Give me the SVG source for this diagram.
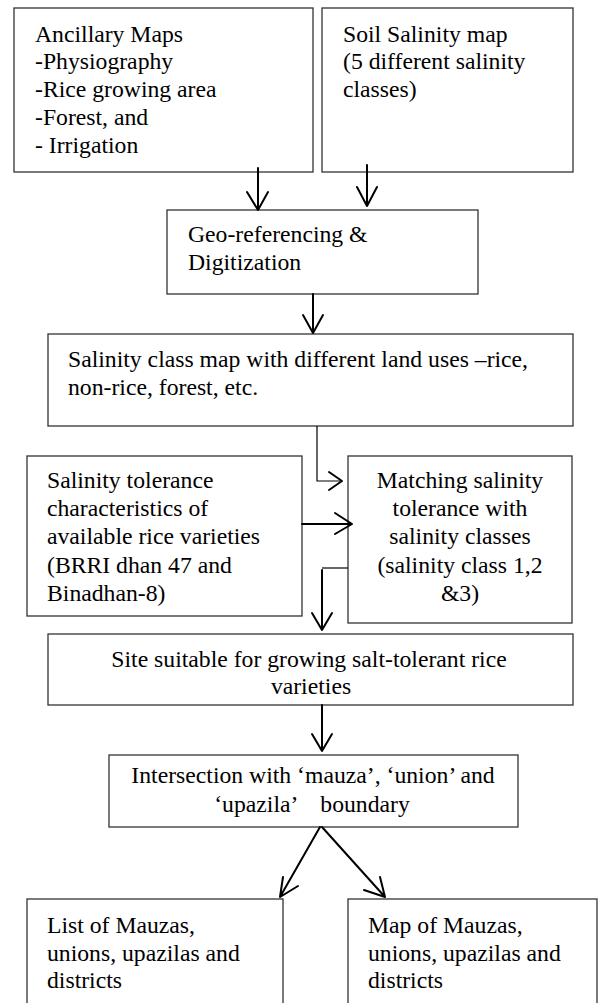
<svg xmlns="http://www.w3.org/2000/svg" width="598" height="1003" viewBox="0 0 598 1003">
<style>
.box{fill:#fff;stroke:#333;stroke-width:1.3}
.t{font-family:"Liberation Serif","Times New Roman",serif;font-size:23.7px;fill:#000}
.c{text-anchor:middle}
.ln{fill:none;stroke:#000;stroke-width:2;stroke-linecap:round;stroke-linejoin:round}
.thin{fill:none;stroke:#000;stroke-width:1.2}
</style>
<rect width="598" height="1003" fill="#fff"/>
<g id="ancillary">
<rect class="box" x="14" y="8" width="299" height="164"/>
<text class="t" x="35" y="42">Ancillary Maps</text>
<text class="t" x="35" y="69">-Physiography</text>
<text class="t" x="35" y="97">-Rice growing area</text>
<text class="t" x="35" y="125">-Forest, and</text>
<text class="t" x="35" y="153">- Irrigation</text>
</g>
<g id="soil">
<rect class="box" x="322" y="8" width="251" height="164"/>
<text class="t" x="343" y="42">Soil Salinity map</text>
<text class="t" x="343" y="69">(5 different salinity</text>
<text class="t" x="343" y="97">classes)</text>
</g>
<g id="geo">
<rect class="box" x="167" y="210" width="311" height="84"/>
<text class="t" x="188" y="242">Geo-referencing &amp;</text>
<text class="t" x="188" y="270">Digitization</text>
</g>
<g id="classmap">
<rect class="box" x="48" y="334" width="525" height="92"/>
<text class="t" x="68" y="367">Salinity class map with different land uses –rice,</text>
<text class="t" x="68" y="395">non-rice, forest, etc.</text>
</g>
<g id="tolerance">
<rect class="box" x="27" y="456" width="275" height="160"/>
<text class="t" x="47" y="488">Salinity tolerance</text>
<text class="t" x="47" y="516">characteristics of</text>
<text class="t" x="47" y="544">available rice varieties</text>
<text class="t" x="47" y="573">(BRRI dhan 47 and</text>
<text class="t" x="47" y="601">Binadhan-8)</text>
</g>
<g id="matching">
<rect class="box" x="348" y="456" width="224" height="167"/>
<text class="t c" x="460" y="488">Matching salinity</text>
<text class="t c" x="460" y="516">tolerance with</text>
<text class="t c" x="460" y="544">salinity classes</text>
<text class="t c" x="460" y="573">(salinity class 1,2</text>
<text class="t c" x="460" y="601">&amp;3)</text>
</g>
<g id="site">
<rect class="box" x="48" y="634" width="525" height="71"/>
<text class="t c" x="309" y="667">Site suitable for growing salt-tolerant rice</text>
<text class="t c" x="311" y="694">varieties</text>
</g>
<g id="intersection">
<rect class="box" x="109" y="755" width="409" height="72"/>
<text class="t c" x="313" y="783">Intersection with ‘mauza’, ‘union’ and</text>
<text class="t c" x="312" y="812" xml:space="preserve">‘upazila’    boundary</text>
</g>
<g id="list">
<rect class="box" x="27" y="899" width="256" height="120"/>
<text class="t" x="47" y="933">List of Mauzas,</text>
<text class="t" x="47" y="961">unions, upazilas and</text>
<text class="t" x="47" y="988">districts</text>
</g>
<g id="map">
<rect class="box" x="348" y="899" width="249" height="120"/>
<text class="t" x="368" y="933">Map of Mauzas,</text>
<text class="t" x="368" y="961">unions, upazilas and</text>
<text class="t" x="368" y="988">districts</text>
</g>
<g id="connectors">
<path class="ln" d="M258 168V210M247 192L258 210L268 192"/>
<path class="ln" d="M367 165V206M357 187L367 206L377 187"/>
<path class="ln" d="M313 294V333M303 315L313 333L323 315"/>
<path class="thin" d="M317 426V481H340"/>
<path class="ln" d="M329 472L342 481L329 490"/>
<path class="ln" d="M302 524H352M335 513L352 524L335 534"/>
<path class="thin" d="M348 568H322"/>
<path class="ln" d="M322 570V630M312 613L322 630L332 613"/>
<path class="ln" d="M322 705V751M312 734L322 751L332 734"/>
<path class="ln" d="M320 827L280 897M283 877L280 897L298 886"/>
<path class="ln" d="M322 827L385 897M380 877L385 897L364 890"/>
</g>
</svg>
